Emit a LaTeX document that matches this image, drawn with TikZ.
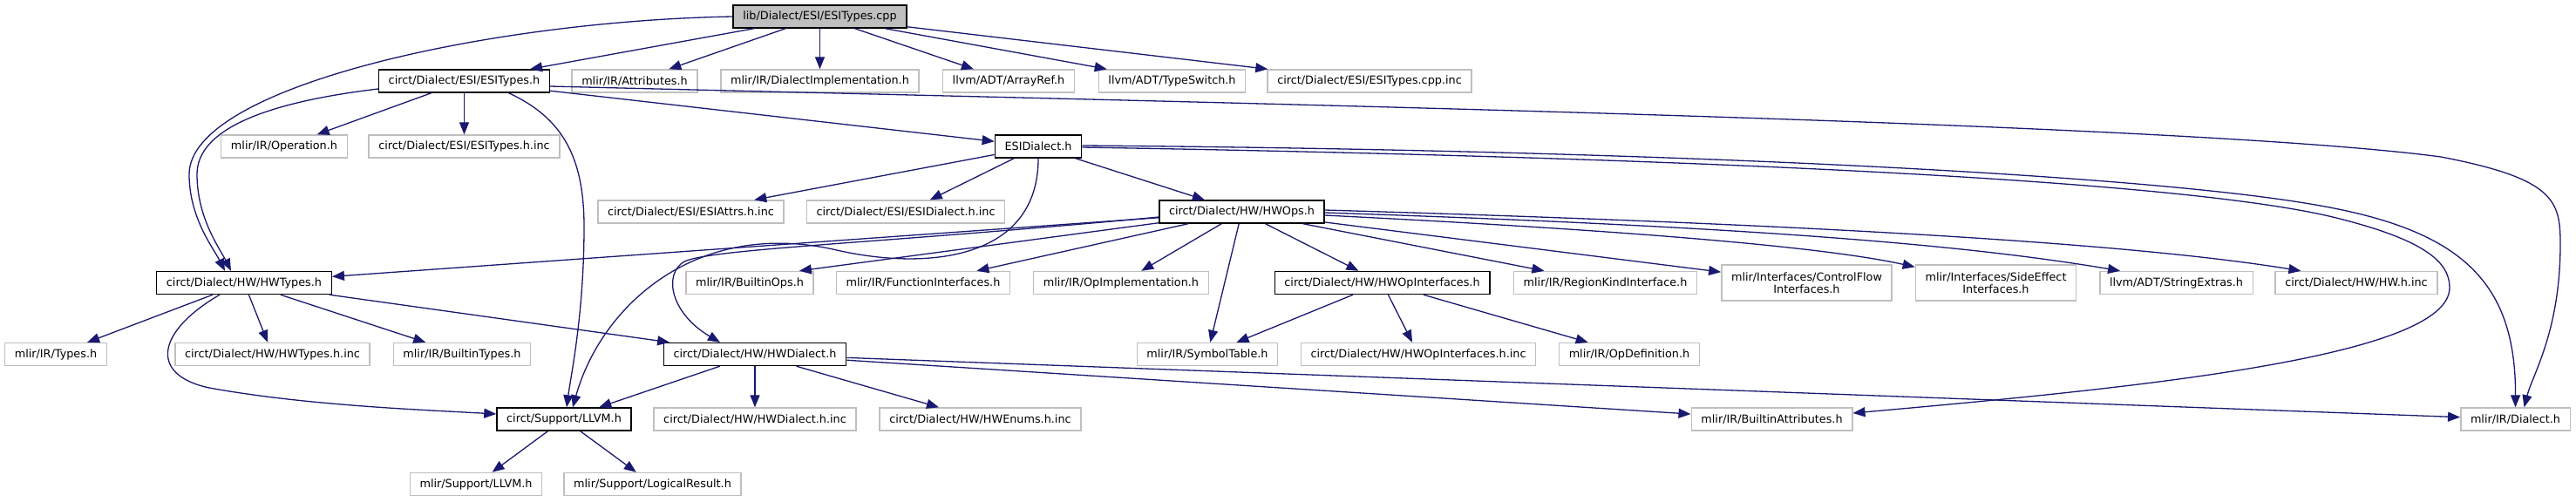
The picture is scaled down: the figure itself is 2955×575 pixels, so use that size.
\documentclass[tikz,border=0pt]{standalone}
\usepackage{fontspec}
\setmainfont{DejaVu Sans}
\usetikzlibrary{arrows.meta}
\definecolor{edge}{HTML}{191970}
\definecolor{grey75}{HTML}{BFBFBF}

\begin{document}
\begin{tikzpicture}[x=0.5pt,y=-0.5pt,font=\fontsize{6.4pt}{7pt}\selectfont,
  box/.style={rectangle,minimum height=13pt,inner xsep=5.6pt,inner ysep=0pt,
    align=center,line width=0.7pt,fill=white},
  ext/.style={box,draw=grey75},
  doc/.style={box,draw=black},
  srcfile/.style={box,draw=black,fill=grey75},
  tall/.style={minimum height=20.5pt},
  arr/.style={-{Triangle[length=7pt,width=5.5pt]},draw=edge,line width=0.65pt}]
  \useasboundingbox (0,0) rectangle (2955,575);
  % files, row by row
  \node[srcfile] (esitypescpp) at (940.5,19) {lib/Dialect/ESI/ESITypes.cpp};
  \node[doc] (esitypesh) at (532.5,93) {circt/Dialect/ESI/ESITypes.h};
  \node[ext] (attributes) at (728,93) {mlir/IR/Attributes.h};
  \node[ext] (dialectimpl) at (940.5,93) {mlir/IR/DialectImplementation.h};
  \node[ext] (arrayref) at (1157,93) {llvm/ADT/ArrayRef.h};
  \node[ext] (typeswitch) at (1344.5,93) {llvm/ADT/TypeSwitch.h};
  \node[ext] (cppinc) at (1571,93) {circt/Dialect/ESI/ESITypes.cpp.inc};
  \node[ext] (operation) at (326,168) {mlir/IR/Operation.h};
  \node[ext] (esitypesinc) at (532.5,168) {circt/Dialect/ESI/ESITypes.h.inc};
  \node[doc] (esidialect) at (1191,168) {ESIDialect.h};
  \node[ext] (esiattrs) at (792.5,243) {circt/Dialect/ESI/ESIAttrs.h.inc};
  \node[ext] (esidialectinc) at (1039,243) {circt/Dialect/ESI/ESIDialect.h.inc};
  \node[doc] (hwops) at (1424.5,243) {circt/Dialect/HW/HWOps.h};
  \node[doc] (hwtypes) at (280,324.5) {circt/Dialect/HW/HWTypes.h};
  \node[ext] (builtinops) at (860,324.5) {mlir/IR/BuiltinOps.h};
  \node[ext] (funcifaces) at (1059,324.5) {mlir/IR/FunctionInterfaces.h};
  \node[ext] (opimpl) at (1286,324.5) {mlir/IR/OpImplementation.h};
  \node[doc] (hwopifaces) at (1585.5,324.5) {circt/Dialect/HW/HWOpInterfaces.h};
  \node[ext] (regionkind) at (1841.5,324.5) {mlir/IR/RegionKindInterface.h};
  \node[ext,tall] (controlflow) at (2072.5,324.5) {mlir/Interfaces/ControlFlow\\Interfaces.h};
  \node[ext,tall] (sideeffect) at (2289.5,324.5) {mlir/Interfaces/SideEffect\\Interfaces.h};
  \node[ext] (stringextras) at (2496.5,324.5) {llvm/ADT/StringExtras.h};
  \node[ext] (hwinc) at (2703,324.5) {circt/Dialect/HW/HW.h.inc};
  \node[ext] (types) at (64,406.5) {mlir/IR/Types.h};
  \node[ext] (hwtypesinc) at (312.5,406.5) {circt/Dialect/HW/HWTypes.h.inc};
  \node[ext] (builtintypes) at (530,406.5) {mlir/IR/BuiltinTypes.h};
  \node[doc] (hwdialect) at (866,406.5) {circt/Dialect/HW/HWDialect.h};
  \node[ext] (symboltable) at (1385,406.5) {mlir/IR/SymbolTable.h};
  \node[ext] (hwopifacesinc) at (1627,406.5) {circt/Dialect/HW/HWOpInterfaces.h.inc};
  \node[ext] (opdefinition) at (1869,406.5) {mlir/IR/OpDefinition.h};
  \node[doc] (llvmh) at (647,481) {circt/Support/LLVM.h};
  \node[ext] (hwdialectinc) at (866,481) {circt/Dialect/HW/HWDialect.h.inc};
  \node[ext] (hwenums) at (1124.5,481) {circt/Dialect/HW/HWEnums.h.inc};
  \node[ext] (builtinattrs) at (2032.5,481) {mlir/IR/BuiltinAttributes.h};
  \node[ext] (dialect) at (2885.5,481) {mlir/IR/Dialect.h};
  \node[ext] (mlirllvm) at (546,555.5) {mlir/Support/LLVM.h};
  \node[ext] (logicalresult) at (748.5,555.5) {mlir/Support/LogicalResult.h};
  % straight includes
  \draw[arr] (esitypescpp)--(esitypesh); \draw[arr] (esitypescpp)--(attributes);
  \draw[arr] (esitypescpp)--(dialectimpl); \draw[arr] (esitypescpp)--(arrayref);
  \draw[arr] (esitypescpp)--(typeswitch); \draw[arr] (esitypescpp)--(cppinc);
  \draw[arr] (esitypesh)--(operation); \draw[arr] (esitypesh)--(esitypesinc);
  \draw[arr] (esitypesh)--(esidialect);
  \draw[arr] (esidialect)--(esiattrs); \draw[arr] (esidialect)--(esidialectinc);
  \draw[arr] (esidialect)--(hwops);
  \draw[arr] (hwops)--(hwtypes); \draw[arr] (hwops)--([xshift=-8.5pt]builtinops.north east);
  \draw[arr] (hwops)--(funcifaces); \draw[arr] (hwops)--(opimpl);
  \draw[arr] (hwops)--(symboltable); \draw[arr] (hwops)--(hwopifaces);
  \draw[arr] (hwops)--(regionkind); \draw[arr] (hwops)--(controlflow);
  \draw[arr] (hwtypes)--(types); \draw[arr] (hwtypes)--(hwtypesinc);
  \draw[arr] (hwtypes)--(builtintypes); \draw[arr] (hwtypes)--(hwdialect);
  \draw[arr] (hwopifaces)--(symboltable); \draw[arr] (hwopifaces)--(hwopifacesinc);
  \draw[arr] (hwopifaces)--(opdefinition);
  \draw[arr] (hwdialect)--(llvmh); \draw[arr] (hwdialect)--(hwdialectinc);
  \draw[arr] (hwdialect)--(hwenums); \draw[arr] (hwdialect)--(builtinattrs);
  \draw[arr] (hwdialect)--(dialect);
  \draw[arr] (llvmh)--(mlirllvm); \draw[arr] (llvmh)--(logicalresult);
  % curved includes
  \draw[arr] (esitypescpp.west) .. controls (560,24) and (217,100) .. (217,200)
    .. controls (217,250) and (245,285) .. ([xshift=-11pt]hwtypes.north);
  \draw[arr] ([yshift=-4.5pt]esitypesh.west) .. controls (300,118) and (226,150) .. (226,200)
    .. controls (226,250) and (252,285) .. ([xshift=-7.5pt]hwtypes.north);
  \draw[arr] ([xshift=25.5pt]esitypesh.south) .. controls (645,135) and (670,180) .. (670,260)
    .. controls (670,360) and (655,430) .. ([xshift=1.5pt]llvmh.north);
  \draw[arr] ([yshift=-3pt]esitypesh.east) .. controls (1400,118) and (2500,140) .. (2800,180)
    .. controls (2930,205) and (2937,230) .. (2937,280)
    .. controls (2937,380) and (2905,430) .. ([xshift=5pt]dialect.north);
  \draw[arr] (esidialect.south) .. controls (1191,300) and (1060,310) .. (960,287)
    .. controls (800,250) and (690,350) .. ([xshift=5pt]llvmh.north);
  \draw[arr] ([yshift=0.5pt]esidialect.east) .. controls (1900,172) and (2450,200) .. (2650,234)
    .. controls (2820,262) and (2886,320) .. (dialect.north);
  \draw[arr] ([yshift=-0.5pt]esidialect.east) .. controls (1900,180) and (2500,205) .. (2680,250)
    .. controls (2780,275) and (2810,300) .. (2810,330)
    .. controls (2810,410) and (2450,445) .. ([yshift=3.5pt]builtinattrs.east);
  \draw[arr] ([yshift=-3pt]hwops.west) .. controls (1000,280) and (820,285) .. (785,300)
    .. controls (760,315) and (770,360) .. ([xshift=-20pt]hwdialect.north);
  \draw[arr] ([yshift=-2pt]hwops.east) .. controls (1900,266) and (2100,285)
    .. ([yshift=-1.5pt]sideeffect.north west);
  \draw[arr] ([yshift=-0.5pt]hwops.east) .. controls (2000,260) and (2250,280)
    .. ([xshift=12pt]stringextras.north west);
  \draw[arr] ([yshift=1pt]hwops.east) .. controls (2100,258) and (2450,280)
    .. ([xshift=15pt]hwinc.north west);
  \draw[arr] ([xshift=-14pt]hwtypes.south) .. controls (180,380) and (170,430) .. (240,445)
    .. controls (350,465) and (480,470) .. ([yshift=3pt]llvmh.west);
\end{tikzpicture}
\end{document}
